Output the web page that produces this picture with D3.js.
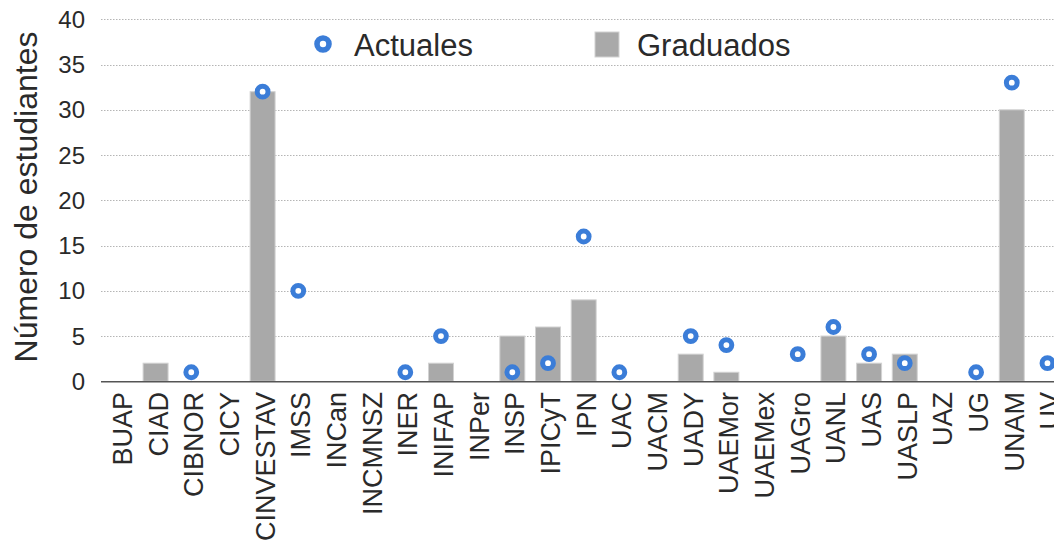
<!DOCTYPE html>
<html lang="es">
<head>
    <meta charset="UTF-8">
    <title>Número de estudiantes</title>
    <script src="https://d3js.org/d3.v7.min.js"></script>
    <style>
        body {
            margin: 0;
            background: #ffffff;
        }
        svg {
            display: block;
            font-family: "Liberation Sans", Arial, sans-serif;
        }
        .grid line {
            stroke: #b5b5b5;
            stroke-width: 1;
            stroke-dasharray: 1.5 1.5;
        }
        .tick-label {
            font-size: 24px;
            fill: #2a2a2a;
        }
        .x-label {
            font-size: 27px;
            fill: #2a2a2a;
        }
        .bar {
            fill: #a9a9a9;
            stroke: #d2d2d2;
            stroke-width: 1;
        }
        .dot {
            fill: #ffffff;
            stroke: #3b7dd8;
        }
        .legend-text {
            font-size: 31px;
            fill: #2a2a2a;
        }
        .y-title {
            font-size: 32px;
            fill: #2a2a2a;
        }
    </style>
</head>
<body>
    <svg></svg>
    <script>
        // Datos
        const institutions = ["BUAP", "CIAD", "CIBNOR", "CICY", "CINVESTAV", "IMSS", "INCan", "INCMNSZ",
            "INER", "INIFAP", "INPer", "INSP", "IPICyT", "IPN", "UAC", "UACM", "UADY", "UAEMor",
            "UAEMex", "UAGro", "UANL", "UAS", "UASLP", "UAZ", "UG", "UNAM", "UV"];
        const graduados = [0, 2, 0, 0, 32, 0, 0, 0, 0, 2, 0, 5, 6, 9, 0, 0, 3, 1, 0, 0, 5, 2, 3, 0, 0, 30, 0];
        // null = sin estudiantes actuales
        const actuales = [null, null, 1, null, 32, 10, null, null, 1, 5, null, 1, 2, 16, 1, null, 5, 4,
            null, 3, 6, 3, 2, null, 1, 33, 2];
        const yTicks = [0, 5, 10, 15, 20, 25, 30, 35, 40];

        const width = 1054;
        const height = 542;
        const x0 = 101;
        const step = 35.675;

        const svg = d3.select("svg")
            .attr("width", width)
            .attr("height", height);

        const x = d3.scaleBand()
            .domain(institutions)
            .range([x0, x0 + step * (institutions.length - 0.3 + 0.36)])
            .paddingInner(0.3)
            .paddingOuter(0.18);

        const y = d3.scaleLinear()
            .domain([0, 40])
            .range([381.3, 19.3]);

        // lineas de guia
        svg.append("g")
            .attr("class", "grid")
            .selectAll("line")
            .data(yTicks.filter(d => d > 0))
            .enter()
            .append("line")
            .attr("x1", x0)
            .attr("x2", width)
            .attr("y1", d => Math.round(y(d)) + 0.5)
            .attr("y2", d => Math.round(y(d)) + 0.5);

        // etiquetas eje y
        svg.append("g")
            .selectAll("text")
            .data(yTicks)
            .enter()
            .append("text")
            .attr("class", "tick-label")
            .attr("x", 85)
            .attr("y", d => y(d))
            .attr("dy", "0.36em")
            .attr("text-anchor", "end")
            .text(d => d);

        svg.append("text")
            .attr("class", "y-title")
            .attr("transform", "translate(37,197) rotate(-90)")
            .attr("text-anchor", "middle")
            .text("Número de estudiantes");

        // barras
        svg.append("g")
            .selectAll("rect")
            .data(institutions.map((d, i) => ({ name: d, value: graduados[i] })).filter(d => d.value > 0))
            .enter()
            .append("rect")
            .attr("class", "bar")
            .attr("x", d => x(d.name))
            .attr("width", x.bandwidth())
            .attr("y", d => y(d.value))
            .attr("height", d => y(0) - y(d.value));

        // eje x
        svg.append("line")
            .attr("x1", x0)
            .attr("x2", width)
            .attr("y1", y(0) + 0.5)
            .attr("y2", y(0) + 0.5)
            .attr("stroke", "#555")
            .attr("stroke-width", 1.5);

        svg.append("g")
            .selectAll("text")
            .data(institutions)
            .enter()
            .append("text")
            .attr("class", "x-label")
            .attr("transform", d => "translate(" + (x(d) + x.bandwidth() / 2 + 12) + ",392) rotate(-90)")
            .attr("text-anchor", "end")
            .text(d => d);

        // puntos
        svg.append("g")
            .selectAll("circle")
            .data(institutions.map((d, i) => ({ name: d, value: actuales[i] })).filter(d => d.value !== null))
            .enter()
            .append("circle")
            .attr("class", "dot")
            .attr("cx", d => x(d.name) + x.bandwidth() / 2)
            .attr("cy", d => y(d.value))
            .attr("r", 5.4)
            .attr("stroke-width", 5);

        // leyenda
        const legend = svg.append("g");
        legend.append("circle")
            .attr("class", "dot")
            .attr("cx", 323)
            .attr("cy", 44)
            .attr("r", 6)
            .attr("stroke-width", 5.6);
        legend.append("text")
            .attr("class", "legend-text")
            .attr("x", 354)
            .attr("y", 56)
            .text("Actuales");
        legend.append("rect")
            .attr("class", "bar")
            .attr("x", 595)
            .attr("y", 32)
            .attr("width", 24)
            .attr("height", 25);
        legend.append("text")
            .attr("class", "legend-text")
            .attr("x", 637)
            .attr("y", 56)
            .text("Graduados");
    </script>
</body>
</html>
